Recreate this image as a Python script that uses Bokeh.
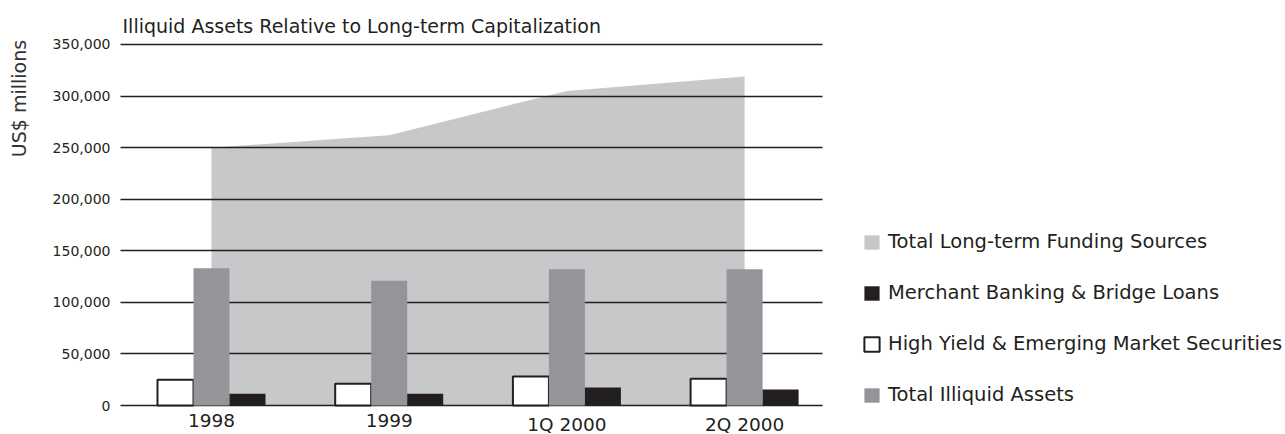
from bokeh.plotting import figure
from bokeh.models import (Range1d, Legend, LegendItem, LabelSet, Label, ColumnDataSource,
                          FixedTicker)
from bokeh.core.properties import value
from bokeh.transform import dodge
from bokeh.embed import file_html
from bokeh.resources import INLINE
import math

# ---- data (US$ millions) ----
categories = ["1998", "1999", "1Q 2000", "2Q 2000"]
funding = [250000, 262000, 305000, 319000]        # Total Long-term Funding Sources
illiquid = [133000, 121000, 132000, 132000]       # Total Illiquid Assets
high_yield = [25000, 21000, 28000, 26000]         # High Yield & Emerging Market Securities
merchant = [11500, 11500, 17500, 15500]           # Merchant Banking & Bridge Loans
y_ticks = [0, 50000, 100000, 150000, 200000, 250000, 300000, 350000]
y_tick_labels = [f"{v:,}" for v in y_ticks]
TITLE = "Illiquid Assets Relative to Long-term Capitalization"

FONT = "DejaVu Sans"
INK = "#231f20"
AREA = "#c7c8ca"
GREY = "#939598"

xs = list(range(len(categories)))
src = ColumnDataSource(dict(x=xs, cat=categories, funding=funding, illiquid=illiquid,
                            high_yield=high_yield, merchant=merchant))
tick_src = ColumnDataSource(dict(y=y_ticks, label=y_tick_labels))
bw = 0.2026
X0, X1 = -0.512, 3.438          # horizontal extent of the charted area (grid lines)
Y_TOP = y_ticks[-1]

p = figure(width=1285, height=434,
           x_range=Range1d(-1.1874, 6.0439), y_range=Range1d(-28116, 392659),
           output_backend="svg", toolbar_location=None,
           min_border_left=0, min_border_right=0,
           min_border_top=0, min_border_bottom=0)
p.outline_line_color = None
p.background_fill_color = "white"
p.border_fill_color = "white"
p.xaxis.visible = False
p.yaxis.visible = False
p.xgrid.visible = False

# area (drawn below grid lines)
area_r = p.varea(x="x", y1=0, y2="funding", source=src, fill_color=AREA, level="image")

# horizontal grid lines limited to the charted area
p.ygrid.ticker = FixedTicker(ticks=y_ticks)
p.ygrid.grid_line_color = INK
p.ygrid.grid_line_width = 1.5
p.ygrid.cross_bounds = (X0, X1)

hy_r = p.vbar(x=dodge("x", -bw, range=p.x_range), top="high_yield", width=bw, source=src,
              fill_color="white", line_color=INK, line_width=2)
il_r = p.vbar(x="x", top="illiquid", width=bw, source=src,
              fill_color=GREY, line_color=None)
mb_r = p.vbar(x=dodge("x", bw, range=p.x_range), top="merchant", width=bw, source=src,
              fill_color=INK, line_color=None)

# category labels under the zero line
p.add_layout(LabelSet(x="x", y=0, text="cat", source=src, y_offset=-8,
                      text_align="center", text_baseline="top",
                      text_font=value(FONT), text_font_size=value("18.5px"),
                      text_color=INK))

# value labels left of the grid lines
p.add_layout(LabelSet(x=X0, y="y", text="label", source=tick_src, x_offset=-10,
                      text_align="right", text_baseline="middle",
                      text_font=value(FONT), text_font_size=value("14px"),
                      text_color=INK))

# y label
p.add_layout(Label(x=-1.086, y=297600, text="US$ millions", angle=math.pi / 2,
                   text_align="center", text_baseline="middle",
                   text_font=FONT, text_font_size="19px", text_color="#333333"))

# chart title above the top grid line
p.add_layout(Label(x=X0, y=Y_TOP, x_offset=2, y_offset=18, text=TITLE,
                   text_align="left", text_baseline="alphabetic",
                   text_font=FONT, text_font_size="19px", text_color=INK))

legend = Legend(items=[
    LegendItem(label="Total Long-term Funding Sources", renderers=[area_r]),
    LegendItem(label="Merchant Banking & Bridge Loans", renderers=[mb_r]),
    LegendItem(label="High Yield & Emerging Market Securities", renderers=[hy_r]),
    LegendItem(label="Total Illiquid Assets", renderers=[il_r]),
], location=(862, 28), orientation="vertical", glyph_width=19, glyph_height=18,
    label_standoff=7, label_text_font=FONT, label_text_font_size="19.5px",
    label_text_color=INK, label_height=18, spacing=28, padding=0, margin=0,
    border_line_color=None, background_fill_alpha=0)
p.add_layout(legend, "center")

open("out.html", "w").write(file_html(p, INLINE))
